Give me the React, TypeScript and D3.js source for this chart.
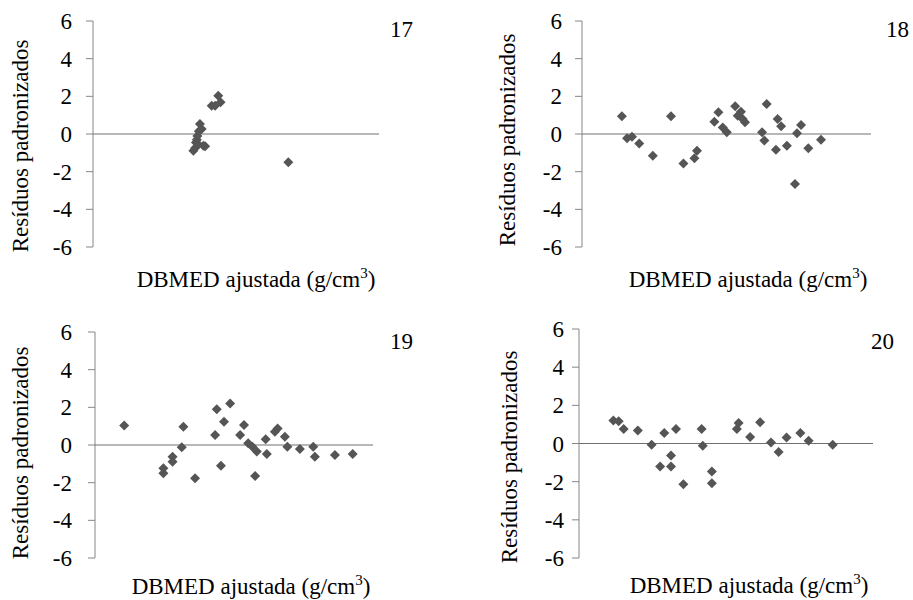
import React from 'react';
import * as d3 from 'd3';

const yTicks = [6, 4, 2, 0, -2, -4, -6];
const panelNames = ['17', '18', '19', '20'];
const xTitleText = 'DBMED ajustada (g/cm';
const xTitleSup = '3';
const yTitleText = 'Resíduos padronizados';

// fitted value (relative position, 0–100) , standardized residual
const data17: [number, number][] = [
  [35.1, -0.89], [35.7, -0.75], [36.0, -0.45], [36.3, -0.3], [36.5, -0.1], [36.8, -0.55],
  [37.0, 0.15], [37.4, 0.53], [38.0, 0.27], [38.6, -0.62], [39.2, -0.65],
  [41.5, 1.5], [42.7, 1.5], [43.8, 2.03], [44.6, 1.68], [68.3, -1.5],
];
const data18: [number, number][] = [
  [13.8, 0.94], [15.6, -0.23], [17.3, -0.14], [19.8, -0.5], [24.5, -1.15], [30.8, 0.94],
  [35.1, -1.56], [38.9, -1.29], [39.8, -0.89], [45.8, 0.65], [47.2, 1.15], [48.7, 0.35],
  [50.1, 0.09], [53.0, 1.47], [53.9, 0.97], [55.0, 1.18], [55.6, 0.8], [56.4, 0.62],
  [62.3, 0.09], [63.1, -0.35], [63.9, 1.59], [67.1, -0.83], [67.7, 0.8], [68.9, 0.41],
  [70.9, -0.62], [73.7, -2.65], [74.4, 0.04], [75.8, 0.48], [78.3, -0.76], [82.7, -0.3],
];
const data19: [number, number][] = [
  [10.5, 1.03], [24.6, -1.24], [24.6, -1.5], [27.9, -0.62], [27.9, -0.89], [31.2, -0.12],
  [31.8, 0.97], [36.0, -1.77], [43.2, 0.53], [43.8, 1.9], [45.3, -1.1], [46.4, 1.24],
  [48.6, 2.21], [52.2, 0.53], [53.6, 1.06], [55.1, 0.09], [56.6, -0.09], [57.6, -1.65],
  [58.2, -0.35], [61.4, 0.3], [61.8, -0.48], [64.7, 0.71], [65.7, 0.88], [68.3, 0.44],
  [69.2, -0.09], [73.7, -0.21], [78.5, -0.09], [79.1, -0.62], [86.3, -0.53], [92.7, -0.48],
];
const data20: [number, number][] = [
  [11.7, 1.21], [13.5, 1.16], [15.2, 0.76], [20.0, 0.68], [24.7, -0.07], [27.6, -1.21],
  [29.0, 0.55], [31.3, -0.63], [31.3, -1.21], [33.0, 0.76], [35.5, -2.13], [41.7, 0.76],
  [42.1, -0.12], [45.2, -1.47], [45.2, -2.08], [53.7, 0.76], [54.3, 1.07], [58.2, 0.34],
  [61.6, 1.12], [65.3, 0.05], [67.9, -0.45], [70.6, 0.32], [75.3, 0.55], [78.1, 0.14],
  [86.3, -0.07],
];

const datasets = [data17, data18, data19, data20];

const layout = [
  { axisX: 93, xEnd: 379, yTop: 21, yBot: 247, labelGap: 21, yTitleX: 28, yTitleY: 146, numX: 390, numY: 37, xTitleX: 256, xTitleY: 287 },
  { axisX: 582, xEnd: 871, yTop: 21, yBot: 247, labelGap: 20, yTitleX: 515, yTitleY: 140, numX: 886, numY: 37, xTitleX: 748, xTitleY: 287 },
  { axisX: 95, xEnd: 373, yTop: 332, yBot: 558, labelGap: 23, yTitleX: 28, yTitleY: 453, numX: 390, numY: 349, xTitleX: 251, xTitleY: 594 },
  { axisX: 579, xEnd: 873, yTop: 329, yBot: 558, labelGap: 15, yTitleX: 517, yTitleY: 457, numX: 871, numY: 349, xTitleX: 749, xTitleY: 593 },
];

const FONT = 'serif';
const FS = 23;
const axisColor = '#868686';
const markColor = '#555555';

const diamond = d3.symbol().type(d3.symbolSquare).size(50)() as string;

function panel(idx: number) {
  const L = layout[idx];
  const data = datasets[idx];
  const x = d3.scaleLinear().domain([0, 100]).range([L.axisX, L.xEnd]);
  const y = d3.scaleLinear().domain([-6, 6]).range([L.yBot, L.yTop]);
  return (
    <React.Fragment key={idx}>
      <line x1={L.axisX} x2={L.axisX} y1={y(6)} y2={y(-6)} stroke={axisColor} strokeWidth={1} />
      {yTicks.map((t) => (
        <line key={`tk${t}`} x1={L.axisX - 7} x2={L.axisX} y1={y(t)} y2={y(t)} stroke={axisColor} strokeWidth={1} />
      ))}
      {yTicks.map((t) => (
        <text key={`tl${t}`} x={L.axisX - L.labelGap} y={y(t) + 8} textAnchor="end" fontFamily={FONT} fontSize={FS}>
          {t}
        </text>
      ))}
      <line x1={L.axisX} x2={L.xEnd} y1={y(0)} y2={y(0)} stroke="#707070" strokeWidth={1} />
      {data.map((d, i) => (
        <path key={`p${i}`} d={diamond} transform={`translate(${x(d[0])},${y(d[1])}) rotate(45)`} fill={markColor} />
      ))}
      <text x={L.numX} y={L.numY} fontFamily={FONT} fontSize={FS}>{panelNames[idx]}</text>
      <text
        transform={`translate(${L.yTitleX},${L.yTitleY}) rotate(-90)`}
        textAnchor="middle"
        fontFamily={FONT}
        fontSize={FS}
      >
        {yTitleText}
      </text>
      <text x={L.xTitleX} y={L.xTitleY} textAnchor="middle" fontFamily={FONT} fontSize={FS}>
        {xTitleText}
        <tspan fontSize={15} dy={-9}>{xTitleSup}</tspan>
        <tspan dy={9}>)</tspan>
      </text>
    </React.Fragment>
  );
}

export default function App() {
  return (
    <svg width={913} height={600} style={{ position: 'absolute', left: 0, top: 0 }}>
      {[0, 1, 2, 3].map((i) => panel(i))}
    </svg>
  );
}
